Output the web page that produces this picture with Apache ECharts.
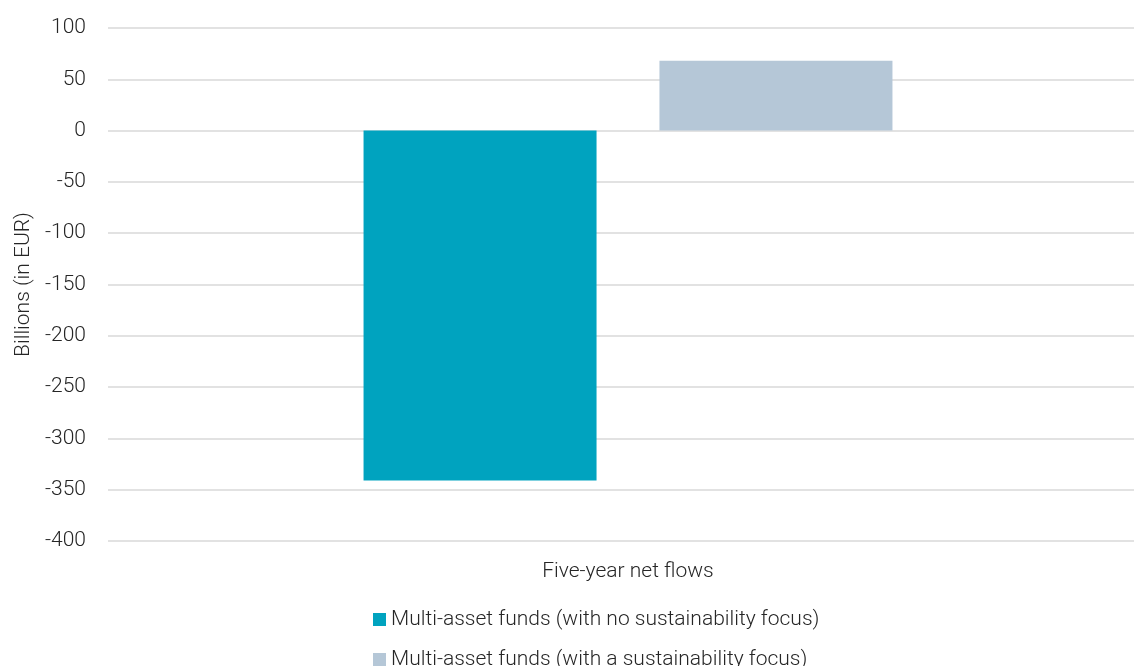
<!DOCTYPE html>
<html>
<head>
<meta charset="utf-8">
<script src="https://cdn.jsdelivr.net/npm/echarts@6/dist/echarts.min.js"></script>
<style>
  html, body { margin: 0; padding: 0; background: #fff; }
  #chart { width: 1134px; height: 666px; }
</style>
</head>
<body>
<div id="chart"></div>
<script>
// 数据
const categories = ['Five-year net flows'];
const seriesNames = [
  'Multi-asset funds (with no sustainability focus)',
  'Multi-asset funds (with a sustainability focus)'
];
const noFocusValues = [-341];
const focusValues = [68];
const colors = ['#00a3bf', '#b5c7d7'];

const chart = echarts.init(document.getElementById('chart'));
const font = 'Roboto';
const textStyle = { fontFamily: font, fontWeight: 300, fontSize: 21, color: '#262626' };

// 图例：两行，第二行被底边截掉
const legendBase = {
  left: 368,
  itemWidth: 13,
  itemHeight: 13,
  itemGap: 6,
  icon: 'rect',
  textStyle: textStyle
};

chart.setOption({
  animation: false,
  color: colors,
  // 绘图区右侧超出画布一点，柱子中心在 628 左右
  grid: { left: 108, width: 1040, top: 28, bottom: 125, outerBoundsMode: 'none', containLabel: false },
  legend: [
    Object.assign({ top: 604, data: [seriesNames[0]] }, legendBase),
    Object.assign({ top: 644, data: [seriesNames[1]] }, legendBase)
  ],
  xAxis: {
    type: 'category',
    data: categories,
    axisLine: { show: false },
    axisTick: { show: false },
    axisLabel: Object.assign({ margin: 20 }, textStyle)
  },
  yAxis: {
    type: 'value',
    min: -400,
    max: 100,
    interval: 50,
    name: 'Billions (in EUR)',
    nameLocation: 'middle',
    nameGap: 74,
    nameTextStyle: textStyle,
    axisLine: { show: false },
    axisTick: { show: false },
    axisLabel: Object.assign({ margin: 22 }, textStyle),
    splitLine: { lineStyle: { color: '#d9d9d9', width: 1.5 } }
  },
  series: [
    { name: seriesNames[0], type: 'bar', data: noFocusValues, barWidth: 233, barGap: '27%' },
    { name: seriesNames[1], type: 'bar', data: focusValues, barWidth: 233, barGap: '27%' }
  ]
});
</script>
</body>
</html>
